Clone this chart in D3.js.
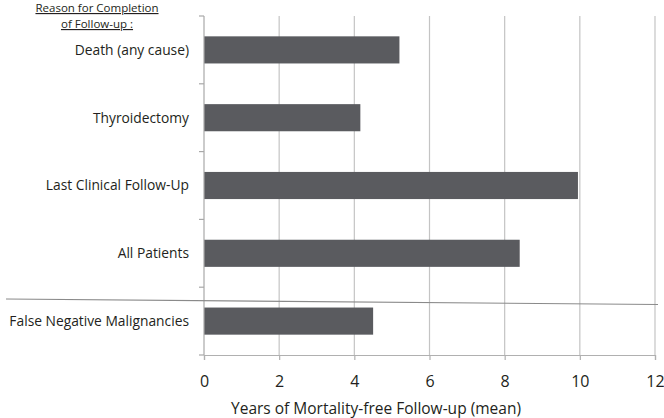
<!DOCTYPE html>
<html><head><meta charset="utf-8">
<script src="https://cdn.jsdelivr.net/npm/d3@7"></script>
<style>
html,body{margin:0;padding:0;background:#fff;}
svg{display:block;}
text{font-family:"Open Sans",sans-serif;fill:#231f20;}
</style></head>
<body>
<script>
const categories = ["Death (any cause)", "Thyroidectomy", "Last Clinical Follow-Up", "All Patients", "False Negative Malignancies"];
const values = [5.2, 4.16, 9.95, 8.4, 4.5];
const xTicks = [0, 2, 4, 6, 8, 10, 12];
const headerLines = ["Reason for Completion", "of Follow-up :"];
const xTitle = "Years of Mortality-free Follow-up (mean)";

const W = 664, H = 418;
const m = {left: 204, right: 9, top: 16, bottom: 63};
const svg = d3.select("body").append("svg").attr("width", W).attr("height", H);

const x = d3.scaleLinear().domain([0, 12]).range([m.left, W - m.right]);
const y = d3.scaleBand().domain(categories).range([m.top, H - m.bottom]).paddingInner(0.6).paddingOuter(0.3);

// gridlines
svg.append("g").selectAll("line").data(xTicks.filter(d => d > 0)).join("line")
  .attr("x1", d => x(d)).attr("x2", d => x(d))
  .attr("y1", m.top).attr("y2", H - m.bottom)
  .attr("stroke", "#c4c4c4").attr("stroke-width", 1.2);

// bars
svg.append("g").selectAll("rect").data(categories).join("rect")
  .attr("x", x(0)).attr("y", (d) => y(d))
  .attr("width", (d, i) => x(values[i]) - x(0))
  .attr("height", y.bandwidth())
  .attr("fill", "#5a5b5f");

// x axis
const xAxis = svg.append("g").attr("transform", `translate(0,${H - m.bottom})`)
  .call(d3.axisBottom(x).tickValues(xTicks).tickSize(5).tickPadding(16));
xAxis.select(".domain").attr("stroke", "#b0b0b0").attr("stroke-width", 1.2);
xAxis.selectAll(".tick line").attr("stroke", "#b0b0b0").attr("stroke-width", 1.2);
xAxis.selectAll(".tick text").style("font-size", "16px").style("font-family", "'Open Sans',sans-serif").attr("fill", "#231f20");

// y axis
const yAxisG = svg.append("g").attr("transform", `translate(${m.left},0)`);
const bandEdges = d3.range(categories.length + 1).map(i => m.top + i * y.step());
yAxisG.append("line").attr("x1", 0).attr("x2", 0).attr("y1", m.top).attr("y2", H - m.bottom)
  .attr("stroke", "#a8a8a8").attr("stroke-width", 1.2);
yAxisG.selectAll("line.tk").data(bandEdges).join("line").attr("class", "tk")
  .attr("x1", -5).attr("x2", 0).attr("y1", d => d).attr("y2", d => d)
  .attr("stroke", "#a8a8a8").attr("stroke-width", 1.2);
yAxisG.selectAll("text").data(categories).join("text")
  .attr("x", -15).attr("y", d => y(d) + y.bandwidth() / 2).attr("dy", "0.35em")
  .attr("text-anchor", "end").style("font-size", "13.8px").text(d => d);

// separator line
svg.append("line").attr("x1", 6).attr("y1", 299).attr("x2", 658).attr("y2", 304.5)
  .attr("stroke", "#8a8a8a").attr("stroke-width", 1.2);

// header
const hdr = svg.append("g");
headerLines.forEach((t, i) => {
  hdr.append("text").attr("x", 97).attr("y", 12 + i * 16).attr("text-anchor", "middle")
    .style("font-size", "11.5px").style("text-decoration", "underline").attr("fill", "#3a3a3a").text(t);
});

// x title
svg.append("text").attr("x", 376).attr("y", 414)
  .attr("text-anchor", "middle").style("font-size", "15.5px").text(xTitle);
</script>
</body></html>
